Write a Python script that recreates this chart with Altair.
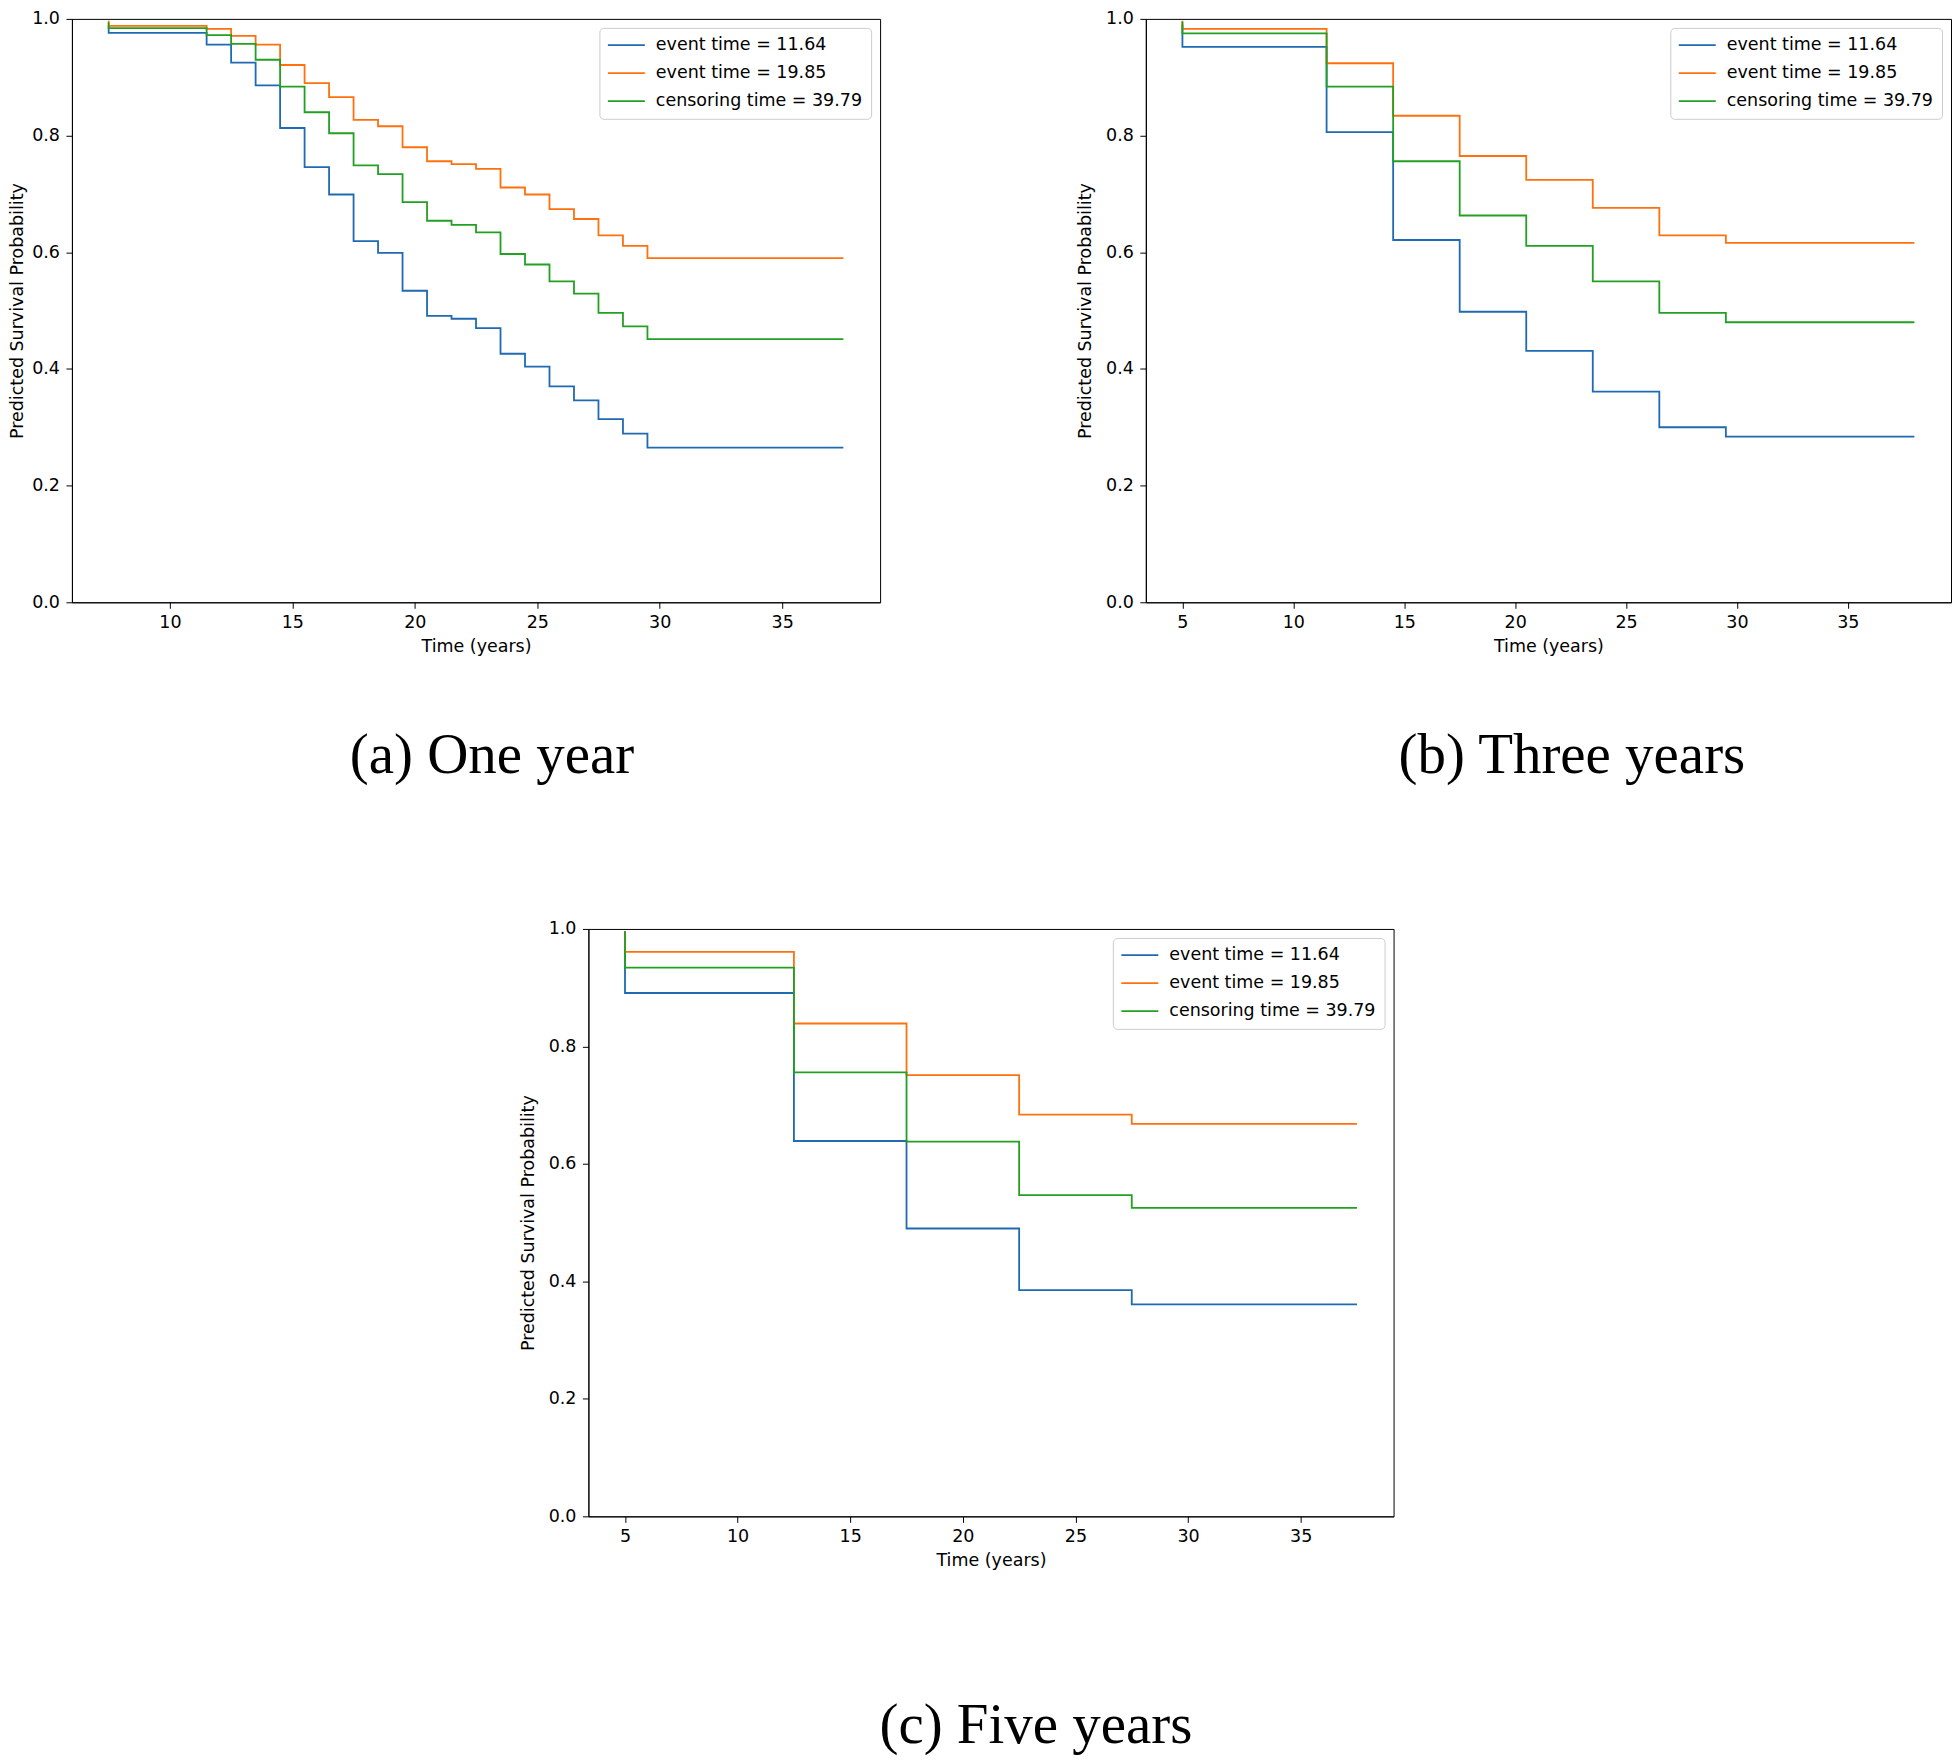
import altair as alt
import pandas as pd

SERIES = ["event time = 11.64", "event time = 19.85", "censoring time = 39.79"]
COLORS = ["#1f6ab0", "#ff700e", "#22a022"]
Y_TICKS = [0.0, 0.2, 0.4, 0.6, 0.8, 1.0]

# (a) One year
TIMES_A = [7.5, 11.5, 12.5, 13.5, 14.5, 15.5, 16.5, 17.5, 18.5, 19.5, 20.5,
           21.5, 22.5, 23.5, 24.5, 25.5, 26.5, 27.5, 28.5, 29.5, 37.5]
A_EVENT_1164 = [0.988, 0.976, 0.956, 0.925, 0.886, 0.813, 0.746, 0.699, 0.619, 0.599, 0.534,
                0.491, 0.486, 0.470, 0.426, 0.404, 0.370, 0.346, 0.314, 0.289, 0.265]
A_EVENT_1985 = [0.997, 0.988, 0.983, 0.971, 0.956, 0.921, 0.890, 0.866, 0.827, 0.816, 0.780,
                0.756, 0.751, 0.743, 0.711, 0.699, 0.674, 0.657, 0.629, 0.611, 0.590]
A_CENSOR_3979 = [0.994, 0.984, 0.972, 0.957, 0.930, 0.884, 0.840, 0.804, 0.749, 0.734, 0.686,
                 0.654, 0.647, 0.634, 0.597, 0.579, 0.550, 0.529, 0.496, 0.473, 0.451]
X_TICKS_A = [10, 15, 20, 25, 30, 35]

# (b) Three years
TIMES_B = [5, 11.5, 14.5, 17.5, 20.5, 23.5, 26.5, 29.5, 38]
B_EVENT_1164 = [0.990, 0.952, 0.806, 0.621, 0.498, 0.431, 0.361, 0.300, 0.284]
B_EVENT_1985 = [0.997, 0.983, 0.924, 0.834, 0.765, 0.724, 0.676, 0.629, 0.616]
B_CENSOR_3979 = [0.995, 0.975, 0.884, 0.756, 0.663, 0.611, 0.550, 0.496, 0.480]
X_TICKS_B = [5, 10, 15, 20, 25, 30, 35]

# (c) Five years
TIMES_C = [5, 12.5, 17.5, 22.5, 27.5, 37.5]
C_EVENT_1164 = [0.996, 0.891, 0.639, 0.490, 0.385, 0.361]
C_EVENT_1985 = [0.996, 0.961, 0.839, 0.751, 0.684, 0.668]
C_CENSOR_3979 = [0.996, 0.934, 0.756, 0.638, 0.547, 0.525]
X_TICKS_C = [5, 10, 15, 20, 25, 30, 35]

CAPTIONS = ["(a) One year", "(b) Three years", "(c) Five years"]

FONT = "DejaVu Sans"
FS = 17.5


def panel(times, curves, xdom, xticks, width, height, y_extent, title_x,
          caption, cap_dx, cap_offset):
    rows = []
    for name, vals in zip(SERIES, curves):
        for t, s in zip(times, vals):
            rows.append({"t": t, "s": s, "series": name})
    df = pd.DataFrame(rows)

    x = alt.X("t:Q",
              scale=alt.Scale(domain=xdom, nice=False, zero=False),
              axis=alt.Axis(values=xticks, format="d", title="Time (years)",
                            labelFlush=False, grid=False))
    y = alt.Y("s:Q",
              scale=alt.Scale(domain=[0, 1], nice=False, zero=False),
              axis=alt.Axis(values=Y_TICKS, format=".1f",
                            title="Predicted Survival Probability",
                            titleX=title_x, minExtent=y_extent, maxExtent=y_extent,
                            grid=False))
    color = alt.Color("series:N",
                      scale=alt.Scale(domain=SERIES, range=COLORS),
                      legend=alt.Legend(title=None, orient="top-right", offset=9,
                                        symbolType="stroke", symbolSize=1600,
                                        symbolStrokeWidth=1.8, symbolOffset=-4,
                                        clipHeight=17.5,
                                        labelFont=FONT, labelFontSize=FS,
                                        labelColor="black", labelLimit=600,
                                        labelOffset=10, rowPadding=9, padding=8.5,
                                        fillColor="white", strokeColor="#cccccc",
                                        cornerRadius=4))
    layers = []
    for name in SERIES:
        layers.append(
            alt.Chart(df)
            .transform_filter(alt.datum.series == name)
            .mark_line(interpolate="step-before", strokeWidth=1.8)
            .encode(x=x, y=y, color=color)
        )
    return alt.layer(*layers).properties(
        width=width, height=height,
        title=alt.TitleParams(text=caption, orient="bottom", anchor="middle",
                              frame="group", font="Liberation Serif", fontSize=57,
                              fontWeight="normal", color="black",
                              offset=cap_offset, dx=cap_dx))


pa = panel(TIMES_A, [A_EVENT_1164, A_EVENT_1985, A_CENSOR_3979], [6.0, 39.0], X_TICKS_A,
           809, 584, 63, -45.5, CAPTIONS[0], 16, 73.5)
pb = panel(TIMES_B, [B_EVENT_1164, B_EVENT_1985, B_CENSOR_3979], [3.35, 39.65], X_TICKS_B,
           806, 584, 70, -51, CAPTIONS[1], 23.5, 73.5)
pc = panel(TIMES_C, [C_EVENT_1164, C_EVENT_1985, C_CENSOR_3979], [3.375, 39.125], X_TICKS_C,
           806, 588, 70, -51, CAPTIONS[2], 45, 129.5)

# invisible spacer that pushes panel (c) to the right
spacer = (
    alt.Chart(pd.DataFrame({"v": [0]}))
    .mark_point(opacity=0)
    .encode(x=alt.X("v:Q", axis=None), y=alt.Y("v:Q", axis=None))
    .properties(width=425, height=10,
                view=alt.ViewBackground(stroke="transparent", fill="transparent"))
)

row1 = (
    alt.hconcat(pa, pb, spacing=194)
    .resolve_scale(x="independent", y="independent", color="independent")
    .resolve_legend(color="independent")
)
row2 = (
    alt.hconcat(spacer, pc, spacing=20)
    .resolve_scale(x="independent", y="independent", color="independent")
    .resolve_legend(color="independent")
)
chart = (
    alt.vconcat(row1, row2, spacing=134)
    .resolve_scale(x="independent", y="independent", color="independent")
    .resolve_legend(color="independent")
    .properties(padding=0)
    .configure(font=FONT)
    .configure_view(stroke="black", strokeWidth=1)
    .configure_axis(labelFont=FONT, labelFontSize=FS, labelColor="black",
                    titleFont=FONT, titleFontSize=FS, titleFontWeight="normal",
                    titleColor="black", tickColor="black", domainColor="black",
                    tickSize=6, tickWidth=1, domainWidth=1, grid=False)
    .configure_axisX(labelPadding=5.5, titlePadding=6)
    .configure_axisY(labelPadding=6.5)
)

chart.save("out.html", embed_options={"renderer": "svg", "actions": False})
